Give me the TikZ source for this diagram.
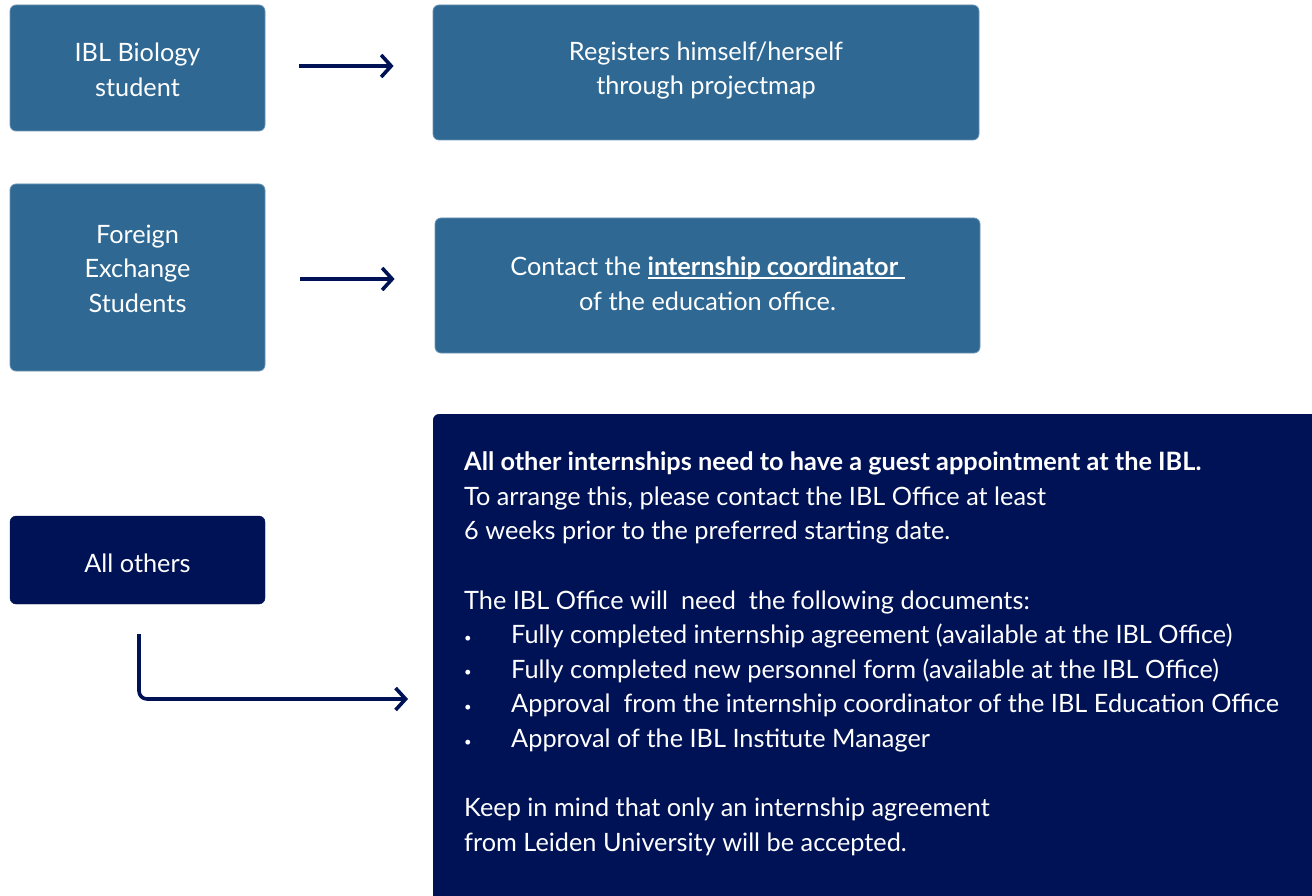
\documentclass[tikz,border=0pt]{standalone}
\usepackage{fontspec}
\setmainfont{Lato}
\usetikzlibrary{arrows.meta,calc}
\definecolor{midblue}{HTML}{2E6893}
\definecolor{navy}{HTML}{001256}
\newcommand\myul[1]{\setbox0\hbox{#1}\rlap{\rule[-3.2pt]{\wd0}{1.4pt}}\box0}
\newcommand\smbul{{\fontsize{13}{13}\selectfont\raisebox{1.5pt}{\textbullet}}}
\tikzset{
  x=1pt,y=-1pt,
  bluebox/.style={fill=midblue,draw=midblue!70!white,line width=0.8,rounded corners=6,inner sep=0},
  navybox/.style={fill=navy,draw=navy,rounded corners=6,inner sep=0},
  boxtext/.style={text=white,align=center,font=\fontsize{25.3}{34.6}\selectfont},
  bodytext/.style={text=white,anchor=base west,inner sep=0,font=\fontsize{25.3}{26}\selectfont},
  arr/.style={draw=navy,line width=3.6,-{Straight Barb[length=10,width=22,line width=3.6]}},
}
\begin{document}
\begin{tikzpicture}
\useasboundingbox (0,0) rectangle (1312,896);
\clip (0,0) rectangle (1312,896);
% boxes
\node[bluebox,minimum width=255,minimum height=126] (bio) at (137.5,68) {};
\node[boxtext] (biot) at (137.5,70) {IBL Biology\\student};
\node[bluebox,minimum width=546,minimum height=135] (reg) at (706,72.5) {};
\node[boxtext] (regt) at (706,70.5) {Registers himself/herself\\through projectmap};
\node[bluebox,minimum width=255,minimum height=187] (for) at (137.5,277.5) {};
\node[boxtext] (fort) at (137.5,268.5) {Foreign\\Exchange\\Students};
\node[bluebox,minimum width=545,minimum height=135] (con) at (707.5,285.5) {};
\node[boxtext] (cont) at (707.5,283.5) {Contact the \myul{\textbf{internship coordinator}\ }\\of the education office.};
\node[navybox,minimum width=255,minimum height=88] (oth) at (137.5,560) {};
\node[boxtext] (otht) at (137.5,563) {All others};
\node[navybox,minimum width=900,minimum height=510,anchor=north west] (big) at (433,414) {};
% big box text
\node[bodytext] (l1) at (464,470.5) {\textbf{All other internships need to have a guest appointment at the IBL.}};
\node[bodytext] (l2) at (464,505.1) {To arrange this, please contact the IBL Office at least};
\node[bodytext] (l3) at (464,539.7) {6 weeks prior to the preferred starting date.};
\node[bodytext] (l4) at (464,609.1) {The IBL Office will\ \ need\ \ the following documents:};
\node[bodytext] (b1) at (464,643.7) {\smbul};
\node[bodytext] (l5) at (511,643.7) {Fully completed internship agreement (available at the IBL Office)};
\node[bodytext] (b2) at (464,678.3) {\smbul};
\node[bodytext] (l6) at (511,678.3) {Fully completed new personnel form (available at the IBL Office)};
\node[bodytext] (b3) at (464,712.9) {\smbul};
\node[bodytext] (l7) at (511,712.9) {Approval\ \ from the internship coordinator of the IBL Education Office};
\node[bodytext] (b4) at (464,747.5) {\smbul};
\node[bodytext] (l8) at (511,747.5) {Approval of the IBL Institute Manager};
\node[bodytext] (l9) at (464,816.9) {Keep in mind that only an internship agreement};
\node[bodytext] (l10) at (464,851.5) {from Leiden University will be accepted.};
% connectors
\coordinate (a1s) at ($(bio.east)+(34,-2)$);
\coordinate (a1e) at ($(reg.west |- a1s)+(-39,0)$);
\draw[arr] (a1s) -- (a1e);
\coordinate (a2s) at ($(for.east)+(35,1.5)$);
\coordinate (a2e) at ($(con.west |- a2s)+(-40,0)$);
\draw[arr] (a2s) -- (a2e);
\coordinate (a3s) at ($(oth.south)+(1.5,30)$);
\coordinate (a3e) at ($(big.west |- 0,699)+(-25,0)$);
\draw[arr,rounded corners=8] (a3s) |- (a3e);
\end{tikzpicture}
\end{document}
